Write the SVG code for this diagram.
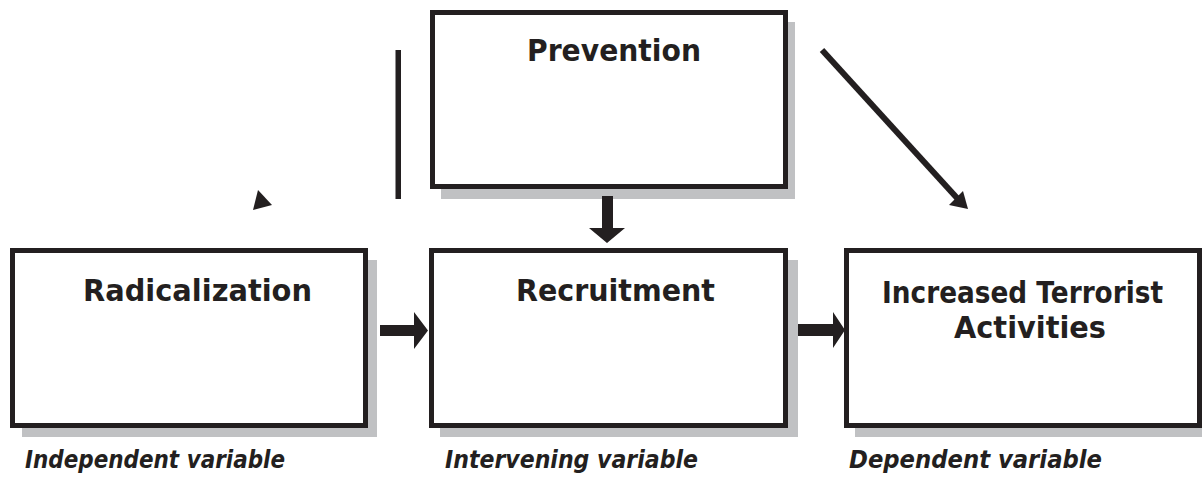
<svg xmlns="http://www.w3.org/2000/svg" width="1202" height="484" viewBox="0 0 1202 484">
<style>
.box{fill:#ffffff;stroke:#231f20;stroke-width:5}
.shadow{fill:#c0c1c3}
.title{font-family:"DejaVu Sans","Liberation Sans",sans-serif;font-weight:bold;font-size:30px;fill:#231f20;text-anchor:middle}
.label{font-family:"DejaVu Sans","Liberation Sans",sans-serif;font-weight:bold;font-style:italic;font-size:24px;fill:#231f20}
.ink{fill:#231f20}
</style>
<rect width="1202" height="484" fill="#ffffff"/>
<g id="prevention">
<rect class="shadow" x="441" y="22" width="354" height="177"/>
<rect class="box" x="432.5" y="12.5" width="353" height="174"/>
<text class="title" x="614" y="61" textLength="174" lengthAdjust="spacingAndGlyphs">Prevention</text>
</g>
<g id="radicalization">
<rect class="shadow" x="22" y="260" width="355" height="177"/>
<rect class="box" x="12.5" y="250.5" width="353" height="175"/>
<text class="title" x="197.5" y="301" textLength="229" lengthAdjust="spacingAndGlyphs">Radicalization</text>
</g>
<g id="recruitment">
<rect class="shadow" x="440" y="260" width="358" height="177"/>
<rect class="box" x="431.5" y="250.5" width="354" height="175"/>
<text class="title" x="615.5" y="301" textLength="199" lengthAdjust="spacingAndGlyphs">Recruitment</text>
</g>
<g id="increased">
<rect class="shadow" x="855" y="260" width="360" height="177"/>
<rect class="box" x="846.5" y="250.5" width="353" height="175"/>
<text class="title" x="1022.5" y="303" textLength="281" lengthAdjust="spacingAndGlyphs">Increased Terrorist</text>
<text class="title" x="1030" y="338" textLength="152" lengthAdjust="spacingAndGlyphs">Activities</text>
</g>
<g id="labels">
<text class="label" x="25" y="468" textLength="260" lengthAdjust="spacingAndGlyphs">Independent variable</text>
<text class="label" x="445" y="468" textLength="253" lengthAdjust="spacingAndGlyphs">Intervening variable</text>
<text class="label" x="849" y="468" textLength="253" lengthAdjust="spacingAndGlyphs">Dependent variable</text>
</g>
<g id="connectors">
<polygon class="ink" points="380,325 414,325 414,312 428,330.5 414,349 414,336 380,336"/>
<polygon class="ink" points="798,324 833,324 833,312 845,330 833,348 833,336 798,336"/>
<polygon class="ink" points="602,196 613,196 613,228 625,228 607,243 589,228 602,228"/>
<line x1="822" y1="50" x2="957" y2="198" stroke="#231f20" stroke-width="6"/>
<polygon class="ink" points="968,209 949,205 963,191"/>
<rect class="ink" x="395.5" y="50" width="5.5" height="149"/>
<polygon class="ink" points="253,210 272,205 258,190"/>
</g>
</svg>
